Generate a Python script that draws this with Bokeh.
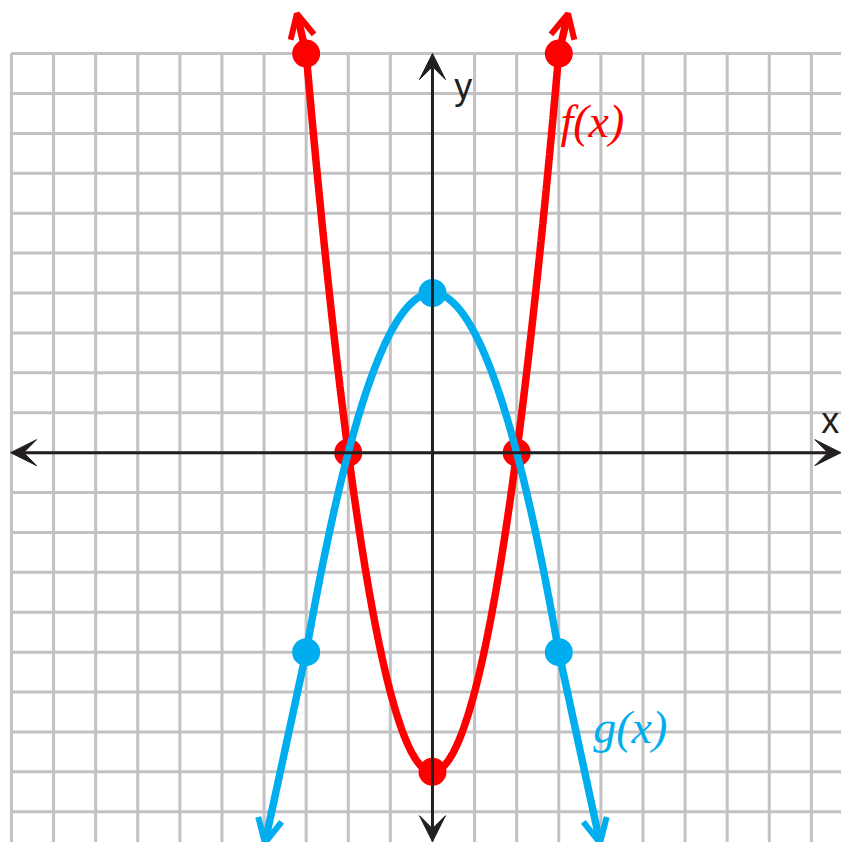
import numpy as np
from bokeh.plotting import figure
from bokeh.models import Range1d, Arrow, VeeHead, OpenHead
from bokeh.core.properties import value
from bokeh.embed import file_html
from bokeh.resources import INLINE

# ---- data ----
grid_ticks = list(range(-10, 11))
f_coef = [2, 0, -8]      # f(x) = 2x^2 - 8
g_coef = [-1, 0, 4]      # g(x) = -x^2 + 4
f_pts_x = [-3, -2, 0, 2, 3]
f_pts_y = [10, 0, -8, 0, 10]
g_pts_x = [-3, 0, 3]
g_pts_y = [-5, 4, -5]
f_tips_x = [-3.22, 3.22]
f_tips_y = [11.0, 11.0]
g_tips_x = [-3.98, 3.98]
g_tips_y = [-9.78, -9.78]
axis_x_ends = [-10.02, 9.7]
axis_y_ends = [-9.75, 10.0]

RED = "#ff0000"
BLUE = "#00aeef"
BLACK = "#231f20"
GRID = "#c2c2c2"

p = figure(width=841, height=842, output_backend="svg", toolbar_location=None,
           x_range=Range1d(-10.26, 9.715), y_range=Range1d(-9.77, 11.33),
           min_border=0, min_border_left=0, min_border_right=0,
           min_border_top=0, min_border_bottom=0)
p.axis.visible = False
p.xgrid.visible = False
p.ygrid.visible = False
p.outline_line_color = None
p.background_fill_color = "white"
p.border_fill_color = "white"

# grid
gmin, gmax = grid_ticks[0], grid_ticks[-1]
p.segment(x0=grid_ticks, y0=[gmin]*len(grid_ticks), x1=grid_ticks, y1=[gmax]*len(grid_ticks),
          line_color=GRID, line_width=3)
p.segment(x0=[gmin]*len(grid_ticks), y0=grid_ticks, x1=[gmax]*len(grid_ticks), y1=grid_ticks,
          line_color=GRID, line_width=3)

# axes
def vee():
    return VeeHead(size=26, fill_color=BLACK, line_color=BLACK, line_width=1)

p.add_layout(Arrow(x_start=axis_x_ends[0], y_start=0, x_end=axis_x_ends[1], y_end=0,
                   line_color=BLACK, line_width=3, start=vee(), end=vee()))
p.add_layout(Arrow(x_start=0, y_start=axis_y_ends[0], x_end=0, y_end=axis_y_ends[1],
                   line_color=BLACK, line_width=3, start=vee(), end=vee()))

p.text(x=[9.45], y=[0.8], text=["x"], text_font=value("Liberation Sans"), text_font_size="36px",
       text_color=BLACK, text_align="center", text_baseline="alphabetic")
p.text(x=[0.52], y=[9.18], text=["y"], text_font=value("Liberation Sans"), text_font_size="36px",
       text_color=BLACK, text_align="left", text_baseline="alphabetic")

# f(x)
xs = np.linspace(f_pts_x[0], f_pts_x[-1], 301)
p.line(xs, np.polyval(f_coef, xs), line_color=RED, line_width=7.5)
for (x0, y0, x1, y1) in [(f_pts_x[0], f_pts_y[0], f_tips_x[0], f_tips_y[0]),
                         (f_pts_x[-1], f_pts_y[-1], f_tips_x[1], f_tips_y[1])]:
    p.add_layout(Arrow(x_start=x0, y_start=y0, x_end=x1, y_end=y1, line_color=RED, line_width=7.5,
                       end=OpenHead(size=24, line_color=RED, line_width=6)))
p.scatter(f_pts_x, f_pts_y, size=28, fill_color=RED, line_color=None)

# g(x)
xs = np.linspace(g_pts_x[0], g_pts_x[-1], 301)
p.line(xs, np.polyval(g_coef, xs), line_color=BLUE, line_width=7.5)
for (x0, y0, x1, y1) in [(g_pts_x[0], g_pts_y[0], g_tips_x[0], g_tips_y[0]),
                         (g_pts_x[-1], g_pts_y[-1], g_tips_x[1], g_tips_y[1])]:
    p.add_layout(Arrow(x_start=x0, y_start=y0, x_end=x1, y_end=y1, line_color=BLUE, line_width=7.5,
                       end=OpenHead(size=24, line_color=BLUE, line_width=6)))
p.scatter(g_pts_x, g_pts_y, size=28, fill_color=BLUE, line_color=None)

# labels
p.text(x=[3.04], y=[8.3], text=["f(x)"], text_font=value("Liberation Serif"), text_font_style="italic",
       text_font_size="46px", text_color=RED, text_align="left", text_baseline="alphabetic")
p.text(x=[3.82], y=[-6.89], text=["g(x)"], text_font=value("Liberation Serif"), text_font_style="italic",
       text_font_size="46px", text_color=BLUE, text_align="left", text_baseline="alphabetic")

open("out.html", "w").write(file_html(p, INLINE))
